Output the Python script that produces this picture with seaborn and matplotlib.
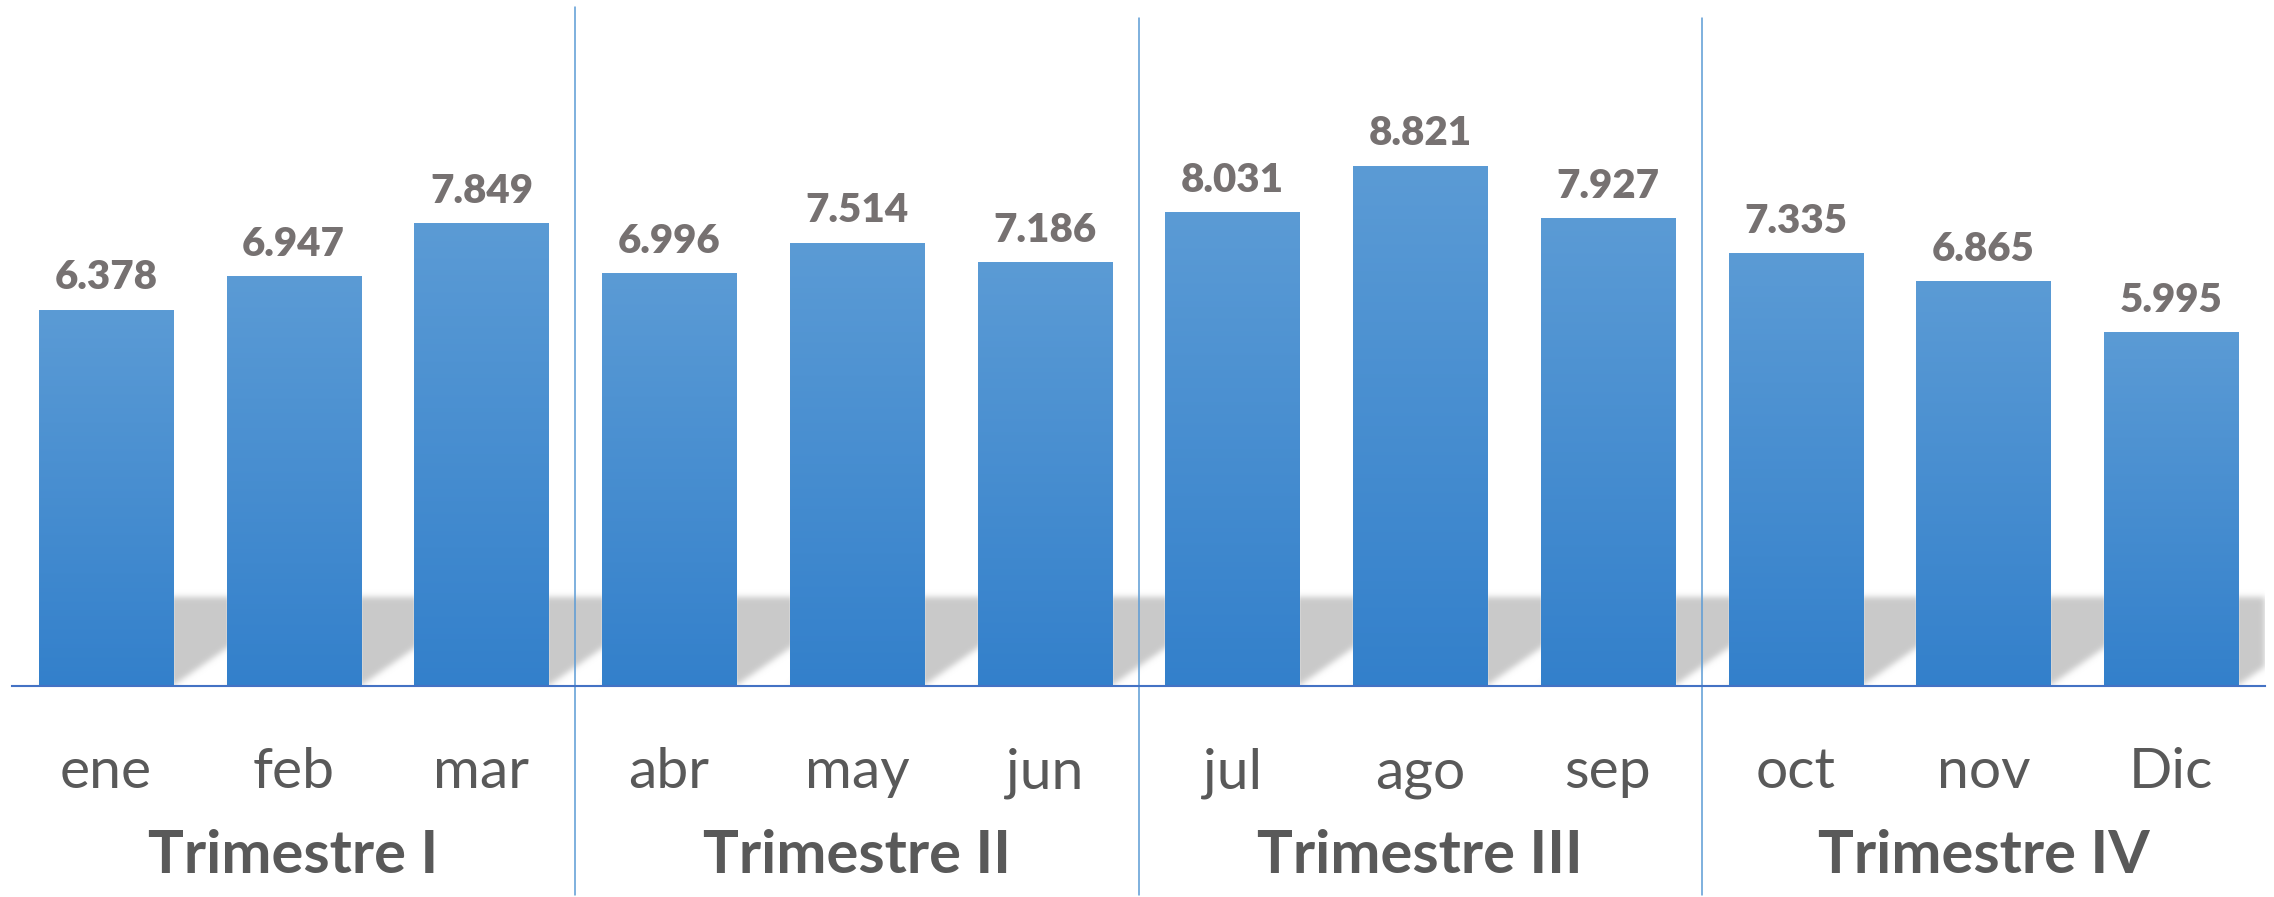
import numpy as np
import matplotlib
matplotlib.use('Agg')
import matplotlib.pyplot as plt
from matplotlib.colors import LinearSegmentedColormap
import seaborn as sns

# datos
months = ['ene', 'feb', 'mar', 'abr', 'may', 'jun', 'jul', 'ago', 'sep', 'oct', 'nov', 'Dic']
values = [6378, 6947, 7849, 6996, 7514, 7186, 8031, 8821, 7927, 7335, 6865, 5995]
quarters = ['Trimestre I', 'Trimestre II', 'Trimestre III', 'Trimestre IV']

sns.set_style('white')
plt.rcParams['font.family'] = ['Lato', 'DejaVu Sans']

fig = plt.figure(figsize=(22.74, 8.97), dpi=100)
ax = fig.add_axes([12 / 2274, 211 / 897, 2253 / 2274, 686 / 897])

sns.barplot(x=months, y=values, color='#5B9BD5', width=0.714, ax=ax,
            saturation=1, zorder=2)

ax.set_xlim(-0.5, 11.5)
ax.set_ylim(0, 11640)

# sombra en perspectiva (difuminada)
shadow_dx = 0.676
shadow_h = 1510
sy_top = 2200
gx = np.linspace(-0.5, 11.5, 2253)
gy = np.linspace(0, sy_top, 130)
X, Y = np.meshgrid(gx, gy)
mask = np.zeros_like(X)
for p in ax.patches:
    x0, w = p.get_x(), p.get_width()
    xs = X - shadow_dx * Y / shadow_h
    mask[(xs >= x0) & (xs <= x0 + w) & (Y <= shadow_h)] = 1.0
k = np.exp(-np.arange(-9, 10) ** 2 / (2 * 3.0 ** 2))
k /= k.sum()
mask = np.apply_along_axis(lambda r: np.convolve(r, k, mode='same'), 1, mask)
mask = np.apply_along_axis(lambda c: np.convolve(c, k, mode='same'), 0, mask)
rgba = np.zeros(mask.shape + (4,))
rgba[..., :3] = 0.79
rgba[..., 3] = np.clip(mask, 0, 1)
ax.imshow(rgba, extent=[-0.5, 11.5, 0, sy_top], origin='lower', aspect='auto',
          zorder=1, interpolation='bilinear')

# degradado de las barras
grad = LinearSegmentedColormap.from_list('g', ['#5B9BD5', '#3380CB'])
for p in ax.patches:
    x0, w, h = p.get_x(), p.get_width(), p.get_height()
    ax.imshow(np.linspace(0, 1, 256).reshape(-1, 1), cmap=grad, aspect='auto',
              extent=[x0, x0 + w, 0, h], origin='upper', zorder=3)
    ax.annotate(f'{int(h):,}'.replace(',', '.'), xy=(x0 + w / 2, h), xytext=(0, 15),
                textcoords='offset points', ha='center', va='baseline',
                fontsize=29, fontweight='heavy', color='#767171', zorder=5)

ax.set_xlim(-0.5, 11.5)
ax.set_ylim(0, 11640)
ax.set_aspect('auto')

trans = ax.get_xaxis_transform()
for i, m in enumerate(months):
    ax.text(i, -0.1487, m, transform=trans, ha='center', va='baseline',
            fontsize=41, color='#595959')
for i, q in enumerate(quarters):
    ax.text(3 * i + 1, -0.2726, q, transform=trans, ha='center', va='baseline',
            fontsize=43, fontweight='bold', color='#595959')

# separadores de trimestre
for i in range(1, 4):
    top = 0.99 if i == 1 else 0.974
    ax.plot([3 * i - 0.5] * 2, [-0.305, top], transform=trans, color='#5B9BD5',
            lw=1.1, clip_on=False, zorder=6)

for s in ['top', 'left', 'right']:
    ax.spines[s].set_visible(False)
ax.spines['bottom'].set_color('#4472C4')
ax.spines['bottom'].set_linewidth(1.5)
ax.spines['bottom'].set_zorder(7)
ax.tick_params(left=False, bottom=False, labelleft=False, labelbottom=False)
ax.set_xlabel('')
ax.set_ylabel('')

fig.savefig('out.png', dpi=100)
